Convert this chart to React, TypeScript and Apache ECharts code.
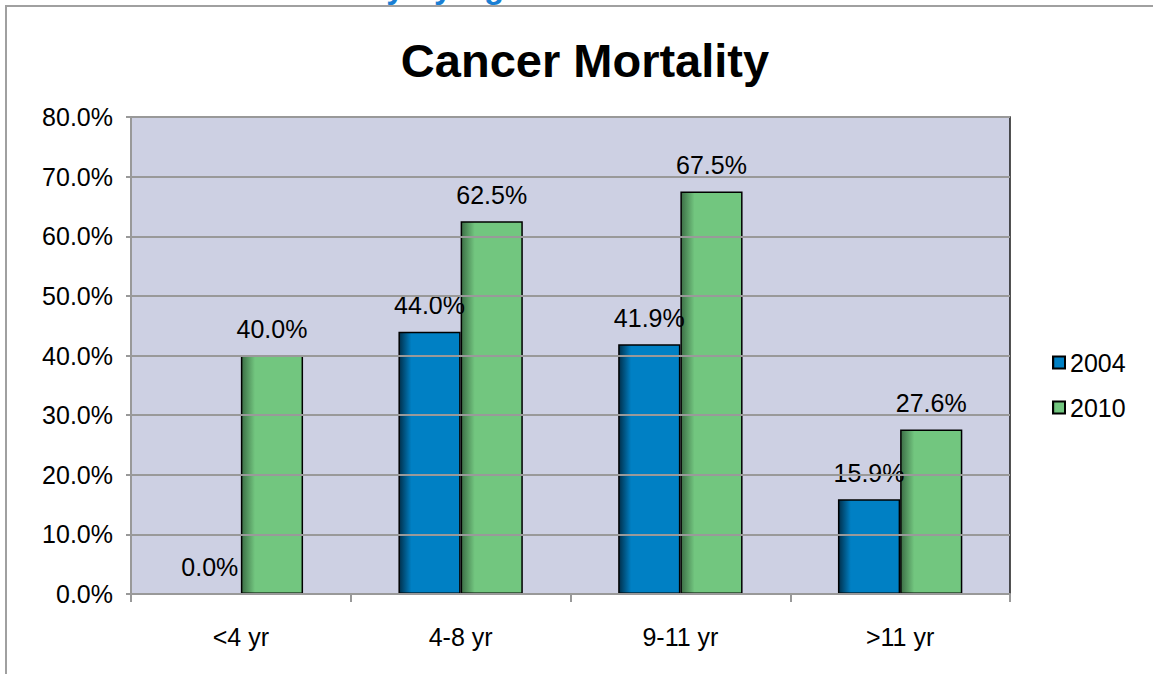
import React, { useEffect, useRef } from "react";
import * as echarts from "echarts";

const categories = ["<4 yr", "4-8 yr", "9-11 yr", ">11 yr"];
const values2004 = [0.0, 44.0, 41.9, 15.9];
const values2010 = [40.0, 62.5, 67.5, 27.6];
const seriesNames = ["2004", "2010"];

const FONT = "Liberation Sans, Arial, sans-serif";

export default function App() {
  const ref = useRef<HTMLDivElement>(null);
  useEffect(() => {
    document.body.style.margin = "0";
    const chart = echarts.init(ref.current!, null, { renderer: "svg" });
    const blue = new echarts.graphic.LinearGradient(0, 0, 1, 0, [
      { offset: 0, color: "#00304C" },
      { offset: 0.2, color: "#0080C4" },
      { offset: 1, color: "#0080C4" },
    ]);
    const green = new echarts.graphic.LinearGradient(0, 0, 1, 0, [
      { offset: 0, color: "#3C6E46" },
      { offset: 0.22, color: "#72C67F" },
      { offset: 1, color: "#72C67F" },
    ]);
    const label = {
      show: true,
      position: "top" as const,
      distance: 14,
      color: "#000",
      fontSize: 25,
      fontFamily: FONT,
      formatter: (p: any) => p.value.toFixed(1) + "%",
    };
    chart.setOption({
      animation: false,
      backgroundColor: "#fff",
      title: {
        text: "Cancer Mortality",
        left: 580,
        textAlign: "center",
        top: 32,
        textStyle: {
          fontSize: 47,
          fontWeight: "bold",
          color: "#000",
          fontFamily: FONT,
        },
      },
      graphic: [
        {
          type: "rect",
          shape: { x: 6, y: 6, width: 1200, height: 720 },
          style: { fill: "none", stroke: "#A0A0A0", lineWidth: 2 },
          silent: true,
          z: 10,
        },
        {
          type: "text",
          x: 146,
          y: -14,
          style: {
            text: "Cancer Mortality by Age",
            fill: "#1A7FD4",
            font: "bold 33px " + FONT,
            verticalAlign: "middle",
          },
          silent: true,
        },
      ],
      legend: {
        orient: "vertical",
        left: 1052,
        top: 350,
        padding: 0,
        itemWidth: 12,
        itemHeight: 12,
        itemGap: 20,
        icon: "rect",
        textStyle: {
          fontSize: 25,
          color: "#000",
          fontFamily: FONT,
          padding: 0,
        },
        data: seriesNames,
      },
      grid: {
        left: 131,
        top: 117,
        right: 143,
        bottom: 80,
        show: true,
        backgroundColor: "#CDD0E3",
        borderColor: "#1A1A1A",
        borderWidth: 1.5,
      },
      xAxis: {
        type: "category",
        data: categories,
        z: 5,
        axisLine: { lineStyle: { color: "#999", width: 2 } },
        axisTick: { show: true, length: 8, lineStyle: { color: "#999", width: 2 } },
        axisLabel: {
          fontSize: 25,
          color: "#000",
          margin: 30,
          fontFamily: FONT,
        },
      },
      yAxis: {
        type: "value",
        min: 0,
        max: 80,
        interval: 10,
        z: 5,
        axisLine: { show: true, lineStyle: { color: "#999", width: 2 } },
        axisTick: { show: true, length: 5, lineStyle: { color: "#999", width: 2 } },
        splitLine: { lineStyle: { color: "#999", width: 2 } },
        axisLabel: {
          fontSize: 25,
          color: "#000",
          margin: 18,
          formatter: (v: number) => v.toFixed(1) + "%",
          fontFamily: FONT,
        },
      },
      series: [
        {
          name: seriesNames[0],
          type: "bar",
          data: values2004,
          barGap: "0%",
          barCategoryGap: "43.4%",
          itemStyle: { color: blue, borderColor: "#000", borderWidth: 1.5 },
          label,
        },
        {
          name: seriesNames[1],
          type: "bar",
          data: values2010,
          barGap: "0%",
          barCategoryGap: "43.4%",
          itemStyle: { color: green, borderColor: "#000", borderWidth: 1.5 },
          label,
        },
      ],
    });
    return () => chart.dispose();
  }, []);
  return <div ref={ref} style={{ width: 1153, height: 674 }} />;
}
